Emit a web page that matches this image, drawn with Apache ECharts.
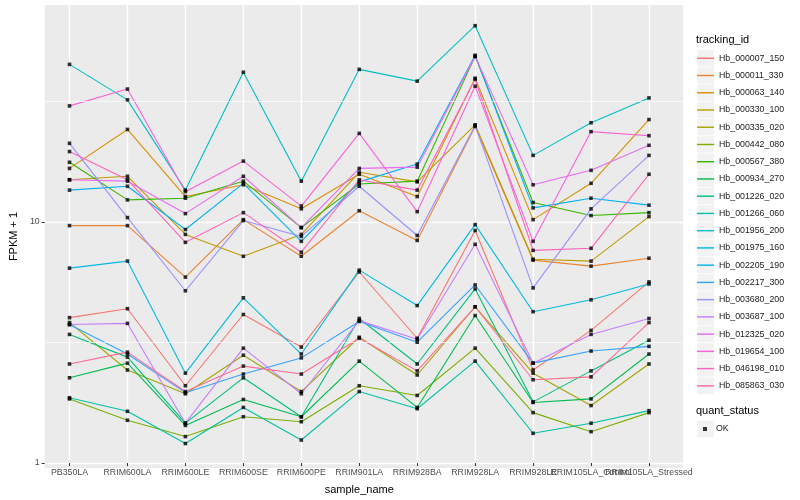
<!DOCTYPE html>
<html><head><meta charset="utf-8">
<script src="https://cdn.jsdelivr.net/npm/echarts@6/dist/echarts.min.js"></script>
<style>html,body{margin:0;padding:0;background:#fff}#c{width:800px;height:500px}</style>
</head><body><div id="c"></div>
<script>
const categories = ['PB350LA','RRIM600LA','RRIM600LE','RRIM600SE','RRIM600PE','RRIM901LA','RRIM928BA','RRIM928LA','RRIM928LE','RRIM105LA_Control','RRIM105LA_Stressed'];
const yTickLabels = [1, 10];
const Hb_000007_150 = [3.88, 4.23, 2.01, 4.00, 2.92, 6.03, 3.18, 9.00, 2.34, 3.43, 5.48];
const Hb_000011_330 = [9.44, 9.44, 5.74, 10.0, 7.02, 10.9, 8.18, 24.6, 6.76, 6.38, 6.89];
const Hb_000063_140 = [16.4, 23.9, 12.5, 14.0, 11.1, 15.5, 12.5, 39.2, 10.0, 14.2, 26.3];
const Hb_000330_100 = [14.7, 15.2, 8.67, 7.02, 8.67, 15.8, 14.4, 25.0, 6.82, 6.70, 10.3];
const Hb_000335_020 = [3.70, 2.34, 1.86, 2.70, 1.90, 3.21, 2.23, 4.31, 2.27, 1.66, 2.48];
const Hb_000442_080 = [1.77, 1.44, 1.23, 1.49, 1.42, 2.01, 1.83, 2.89, 1.55, 1.29, 1.55];
const Hb_000567_380 = [17.4, 12.1, 12.3, 14.5, 9.26, 14.1, 14.5, 48.4, 11.8, 10.4, 10.7];
const Hb_000934_270 = [2.17, 2.50, 1.37, 1.76, 1.49, 2.55, 1.63, 3.96, 1.71, 1.77, 2.73];
const Hb_001226_020 = [3.30, 2.65, 1.40, 2.17, 1.49, 3.85, 2.48, 5.12, 1.72, 2.32, 3.12];
const Hb_001266_060 = [1.79, 1.57, 1.15, 1.63, 1.19, 1.90, 1.61, 2.55, 1.27, 1.40, 1.58];
const Hb_001956_200 = [44.8, 31.8, 13.3, 41.5, 14.5, 42.7, 38.1, 65.1, 18.6, 25.5, 32.4];
const Hb_001975_160 = [6.26, 6.70, 2.27, 4.70, 2.73, 6.14, 4.36, 9.53, 4.11, 4.61, 5.37];
const Hb_002205_190 = [13.3, 13.8, 9.09, 14.2, 8.11, 14.4, 17.1, 48.9, 11.2, 12.3, 11.5];
const Hb_002217_300 = [3.63, 2.73, 1.88, 2.25, 2.63, 3.74, 3.06, 5.32, 2.50, 2.81, 2.94];
const Hb_003680_200 = [20.9, 10.2, 5.03, 9.91, 8.50, 13.8, 8.58, 24.8, 5.17, 11.1, 18.6];
const Hb_003687_100 = [3.63, 3.67, 1.40, 2.89, 1.86, 3.77, 3.15, 7.88, 2.50, 3.30, 3.85];
const Hb_012325_020 = [14.7, 14.5, 10.6, 15.2, 9.26, 16.4, 16.6, 48.4, 14.0, 16.1, 20.5];
const Hb_019654_100 = [30.0, 35.3, 13.1, 17.6, 11.4, 23.0, 10.8, 36.3, 8.11, 23.4, 22.5];
const Hb_046198_010 = [19.3, 14.7, 8.03, 10.7, 7.30, 14.7, 13.3, 38.8, 7.43, 7.58, 15.5];
const Hb_085863_030 = [2.48, 2.78, 1.90, 2.43, 2.25, 3.18, 2.32, 4.31, 2.13, 2.19, 3.70];

const tracking = [
  ['Hb_000007_150', Hb_000007_150], ['Hb_000011_330', Hb_000011_330], ['Hb_000063_140', Hb_000063_140],
  ['Hb_000330_100', Hb_000330_100], ['Hb_000335_020', Hb_000335_020], ['Hb_000442_080', Hb_000442_080],
  ['Hb_000567_380', Hb_000567_380], ['Hb_000934_270', Hb_000934_270], ['Hb_001226_020', Hb_001226_020],
  ['Hb_001266_060', Hb_001266_060], ['Hb_001956_200', Hb_001956_200], ['Hb_001975_160', Hb_001975_160],
  ['Hb_002205_190', Hb_002205_190], ['Hb_002217_300', Hb_002217_300], ['Hb_003680_200', Hb_003680_200],
  ['Hb_003687_100', Hb_003687_100], ['Hb_012325_020', Hb_012325_020], ['Hb_019654_100', Hb_019654_100],
  ['Hb_046198_010', Hb_046198_010], ['Hb_085863_030', Hb_085863_030]
];
const quantStatus = ['OK'];
const palette = ['#F8766D','#EA8331','#D89000','#C09B00','#A3A500','#7CAE00','#39B600','#00BB4E','#00BF7D','#00C1A3','#00BFC4','#00BAE0','#00B0F6','#35A2FF','#9590FF','#C77CFF','#E76BF3','#FA62DB','#FF62BC','#FF6C91'];

const FONT = '"Liberation Sans", Arial, Helvetica, sans-serif';
const yMin = 0.953, yMax = 79.5;
const KEY = 17.24, KEY_TOP = 49.66, KEY_LEFT = 697;

const chart = echarts.init(document.getElementById('c'), null, {renderer: 'canvas'});

const lineSeries = tracking.map(([name, vals], i) => ({
  type: 'line', name, data: vals, xAxisIndex: 1, yAxisIndex: 1,
  symbol: 'none', showSymbol: false, silent: true,
  lineStyle: {color: palette[i], width: 1.1},
  itemStyle: {color: palette[i]}, z: 3
}));
const pointData = [];
tracking.forEach(([n, vals]) => vals.forEach((v, j) => pointData.push([j, v])));

const keyRects = tracking.map((t, i) => ({
  type: 'rect', z: 0, shape: {x: KEY_LEFT, y: KEY_TOP + i * KEY, width: KEY, height: KEY},
  style: {fill: '#F2F2F2', stroke: '#FFFFFF', lineWidth: 0.6}
}));
keyRects.push({type: 'rect', z: 0, shape: {x: KEY_LEFT, y: 429 - KEY / 2, width: KEY, height: KEY},
  style: {fill: '#F2F2F2', stroke: '#FFFFFF', lineWidth: 0.6}});

const option = {
  animation: false,
  textStyle: {fontFamily: FONT},
  title: [
    {text: 'tracking_id', left: 696, top: 34, padding: 0, textStyle: {fontSize: 11, fontWeight: 'normal', color: '#000', fontFamily: FONT}},
    {text: 'quant_status', left: 696, top: 405.5, padding: 0, textStyle: {fontSize: 11, fontWeight: 'normal', color: '#000', fontFamily: FONT}}
  ],
  graphic: keyRects,
  legend: [
    {data: tracking.map(t => t[0]), orient: 'vertical', left: KEY_LEFT, top: KEY_TOP, padding: 0,
     itemWidth: 17, itemHeight: KEY, itemGap: 0, icon: 'path://M0,0H12V1H0Z', selectedMode: false,
     textStyle: {fontSize: 8.8, lineHeight: KEY, height: KEY, color: '#1A1A1A', fontFamily: FONT}},
    {data: quantStatus, orient: 'vertical', left: 703, top: 429 - KEY / 2, padding: 0,
     itemWidth: 4, itemHeight: 4, icon: 'rect', selectedMode: false,
     itemStyle: {color: '#000'},
     textStyle: {fontSize: 8.8, lineHeight: KEY, height: KEY, color: '#1A1A1A', fontFamily: FONT, padding: [0, 0, 0, 4]}}
  ],
  grid: [
    {left: 35, right: 117, top: 5, bottom: 32, show: true, backgroundColor: '#EBEBEB', borderWidth: 0},
    {left: 69.5, right: 151, top: 5, bottom: 32, show: false}
  ],
  xAxis: [
    {type: 'value', gridIndex: 0, min: 0, max: 1, show: false},
    {type: 'category', gridIndex: 1, data: categories, boundaryGap: false,
     axisLine: {show: false},
     axisTick: {show: true, length: 3, lineStyle: {color: '#333333', width: 1}},
     axisLabel: {interval: 0, color: '#4D4D4D', fontSize: 8.8, margin: 5, fontFamily: FONT},
     splitLine: {show: true, lineStyle: {color: '#FFFFFF', width: 1.4}},
     name: 'sample_name', nameLocation: 'middle', nameGap: 21,
     nameTextStyle: {fontSize: 11, color: '#000', fontFamily: FONT}}
  ],
  yAxis: [
    {type: 'log', logBase: 10, gridIndex: 0, min: yMin, max: yMax,
     axisLine: {show: false},
     axisTick: {show: true, length: 3, customValues: yTickLabels, lineStyle: {color: '#333333', width: 1}},
     axisLabel: {color: '#4D4D4D', fontSize: 8.8, margin: 5, fontFamily: FONT, customValues: yTickLabels,
       formatter: v => (yTickLabels.some(t => Math.abs(t - v) < 1e-6) ? String(Math.round(v)) : '')},
     splitLine: {show: true, lineStyle: {color: '#FFFFFF', width: 1.4}},
     name: 'FPKM + 1', nameLocation: 'middle', nameGap: 21, nameRotate: 90,
     nameTextStyle: {fontSize: 11, color: '#000', fontFamily: FONT}},
    {type: 'log', logBase: 10, gridIndex: 1, min: yMin, max: yMax, show: false, splitLine: {show: false}}
  ],
  series: [
    {type: 'line', name: '_minor', data: [], xAxisIndex: 0, yAxisIndex: 0, silent: true, z: 1,
     markLine: {silent: true, symbol: 'none', label: {show: false}, animation: false,
       lineStyle: {color: '#FFFFFF', width: 0.7, type: 'solid'},
       data: [{yAxis: Math.sqrt(10)}, {yAxis: Math.sqrt(1000)}]}},
    ...lineSeries,
    {type: 'scatter', name: 'OK', data: pointData, xAxisIndex: 1, yAxisIndex: 1,
     symbol: 'rect', symbolSize: 3.6, itemStyle: {color: '#000000'}, silent: true, z: 5}
  ]
};
chart.setOption(option);
</script>
</body></html>
